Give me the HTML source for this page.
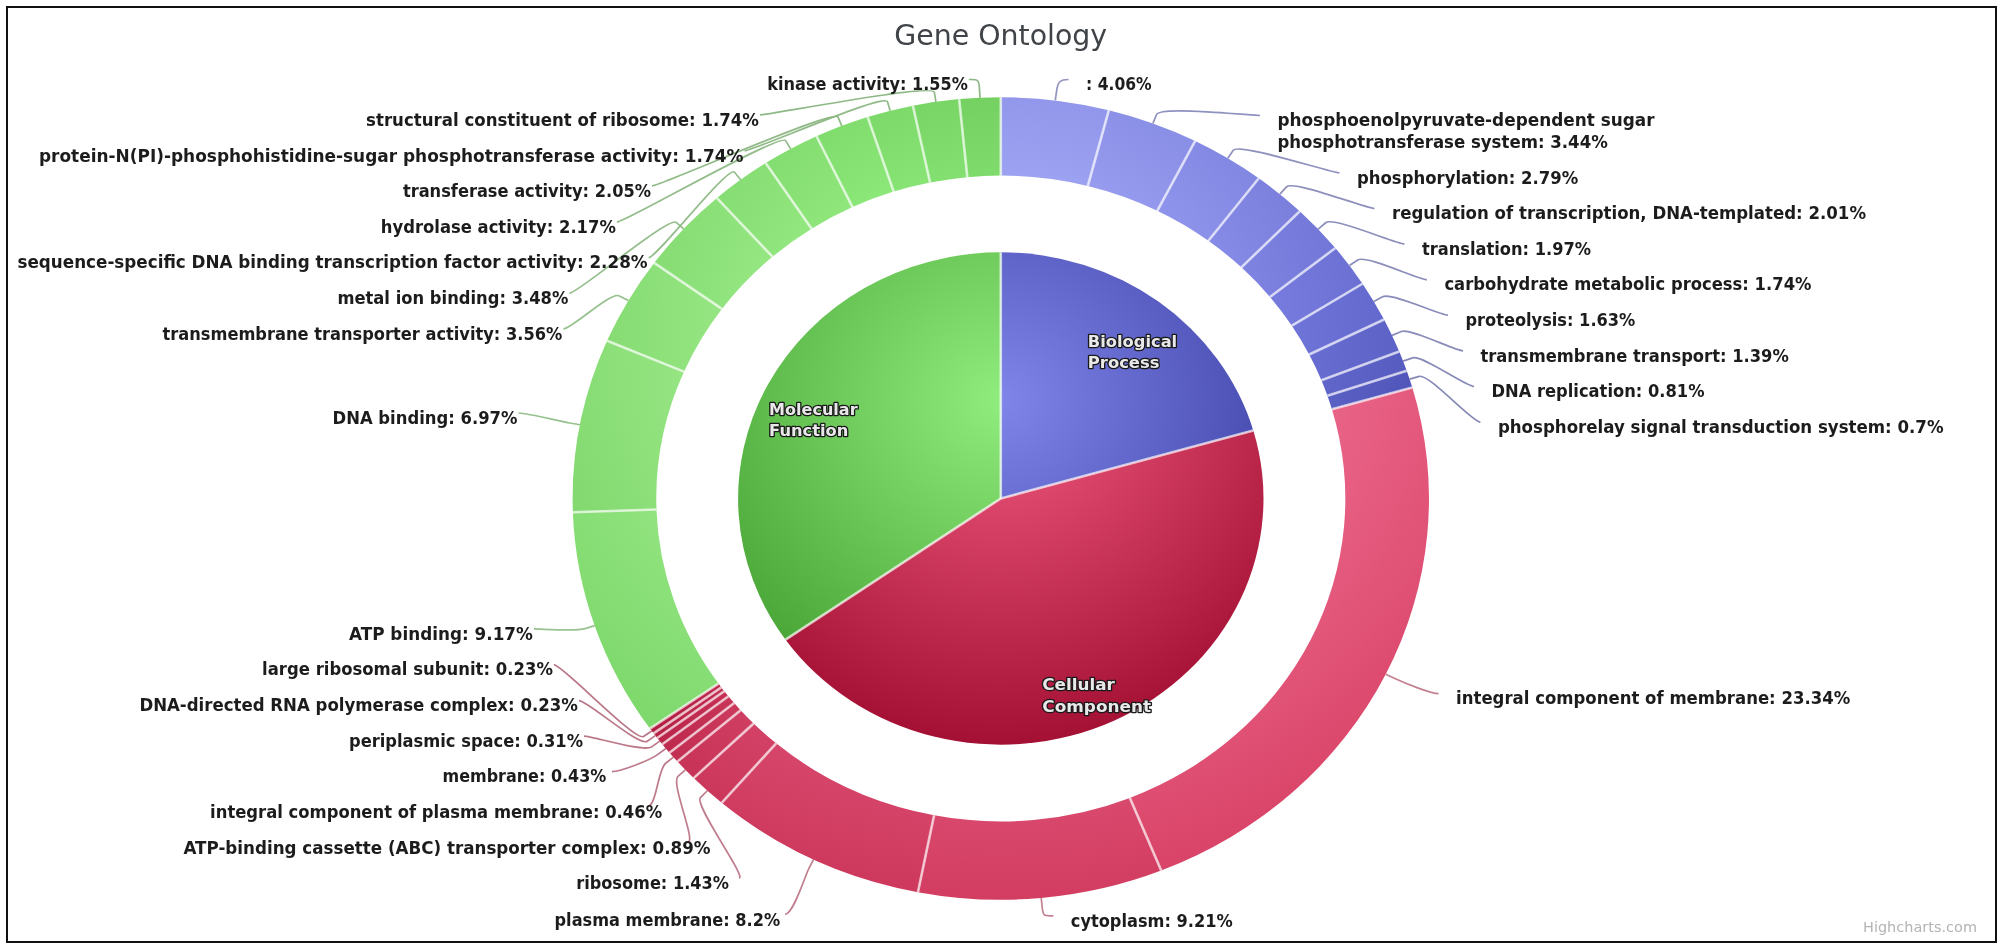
<!DOCTYPE html>
<html lang="en">
<head>
<meta charset="utf-8">
<title>Gene Ontology</title>
<style>
html,body{margin:0;padding:0;background:#fff;}
body{width:2004px;height:949px;overflow:hidden;position:relative;font-family:"DejaVu Sans", "Liberation Sans", sans-serif;}
#frame{position:absolute;left:6px;top:6px;width:1987px;height:933px;border:2px solid #111;background:#fff;}
svg{position:absolute;left:0;top:0;display:block;filter:blur(.5px);}
svg text{font-family:"DejaVu Sans", "Liberation Sans", sans-serif;}
.lab text{font-size:17px;font-weight:bold;fill:#1c1c1c;}
.inl text{font-size:15.5px;font-weight:bold;fill:#e9e9e9;stroke:#1a1a1a;stroke-width:2.6px;stroke-linejoin:round;paint-order:stroke fill;}
.div path{fill:none;stroke:#fff;stroke-width:2.6;stroke-opacity:.68;}
.con path{fill:none;stroke-width:1.7;stroke-opacity:.9;}
</style>
</head>
<body>
<div id="frame"></div>
<svg width="2004" height="949" viewBox="0 0 2004 949">
<defs>
<radialGradient id="gi0" gradientUnits="userSpaceOnUse" cx="0" cy="400.02" r="344.68" fx="0" fy="400.02" gradientTransform="translate(1000.8 0) scale(1.07 1)"><stop offset="0" stop-color="#8085e9"/><stop offset="1" stop-color="#34389c"/></radialGradient>
<radialGradient id="go0_0" gradientUnits="userSpaceOnUse" cx="0" cy="337.98" r="561.82" fx="0" fy="337.98" gradientTransform="translate(1000.8 0) scale(1.07 1)"><stop offset="0" stop-color="#b3b8ff"/><stop offset="1" stop-color="#666cd0"/></radialGradient>
<radialGradient id="go0_1" gradientUnits="userSpaceOnUse" cx="0" cy="337.98" r="561.82" fx="0" fy="337.98" gradientTransform="translate(1000.8 0) scale(1.07 1)"><stop offset="0" stop-color="#aeb3ff"/><stop offset="1" stop-color="#6166ca"/></radialGradient>
<radialGradient id="go0_2" gradientUnits="userSpaceOnUse" cx="0" cy="337.98" r="561.82" fx="0" fy="337.98" gradientTransform="translate(1000.8 0) scale(1.07 1)"><stop offset="0" stop-color="#a9aeff"/><stop offset="1" stop-color="#5c61c5"/></radialGradient>
<radialGradient id="go0_3" gradientUnits="userSpaceOnUse" cx="0" cy="337.98" r="561.82" fx="0" fy="337.98" gradientTransform="translate(1000.8 0) scale(1.07 1)"><stop offset="0" stop-color="#a4a9ff"/><stop offset="1" stop-color="#575cc0"/></radialGradient>
<radialGradient id="go0_4" gradientUnits="userSpaceOnUse" cx="0" cy="337.98" r="561.82" fx="0" fy="337.98" gradientTransform="translate(1000.8 0) scale(1.07 1)"><stop offset="0" stop-color="#9fa4ff"/><stop offset="1" stop-color="#5257bb"/></radialGradient>
<radialGradient id="go0_5" gradientUnits="userSpaceOnUse" cx="0" cy="337.98" r="561.82" fx="0" fy="337.98" gradientTransform="translate(1000.8 0) scale(1.07 1)"><stop offset="0" stop-color="#9a9eff"/><stop offset="1" stop-color="#4d52b6"/></radialGradient>
<radialGradient id="go0_6" gradientUnits="userSpaceOnUse" cx="0" cy="337.98" r="561.82" fx="0" fy="337.98" gradientTransform="translate(1000.8 0) scale(1.07 1)"><stop offset="0" stop-color="#9499fd"/><stop offset="1" stop-color="#484db1"/></radialGradient>
<radialGradient id="go0_7" gradientUnits="userSpaceOnUse" cx="0" cy="337.98" r="561.82" fx="0" fy="337.98" gradientTransform="translate(1000.8 0) scale(1.07 1)"><stop offset="0" stop-color="#8f94f8"/><stop offset="1" stop-color="#4348ac"/></radialGradient>
<radialGradient id="go0_8" gradientUnits="userSpaceOnUse" cx="0" cy="337.98" r="561.82" fx="0" fy="337.98" gradientTransform="translate(1000.8 0) scale(1.07 1)"><stop offset="0" stop-color="#8a8ff3"/><stop offset="1" stop-color="#3e43a7"/></radialGradient>
<radialGradient id="go0_9" gradientUnits="userSpaceOnUse" cx="0" cy="337.98" r="561.82" fx="0" fy="337.98" gradientTransform="translate(1000.8 0) scale(1.07 1)"><stop offset="0" stop-color="#858aee"/><stop offset="1" stop-color="#393ea2"/></radialGradient>
<radialGradient id="gi1" gradientUnits="userSpaceOnUse" cx="0" cy="400.02" r="344.68" fx="0" fy="400.02" gradientTransform="translate(1000.8 0) scale(1.07 1)"><stop offset="0" stop-color="#f15c80"/><stop offset="1" stop-color="#a41034"/></radialGradient>
<radialGradient id="go1_0" gradientUnits="userSpaceOnUse" cx="0" cy="337.98" r="561.82" fx="0" fy="337.98" gradientTransform="translate(1000.8 0) scale(1.07 1)"><stop offset="0" stop-color="#ff8fb3"/><stop offset="1" stop-color="#d84266"/></radialGradient>
<radialGradient id="go1_1" gradientUnits="userSpaceOnUse" cx="0" cy="337.98" r="561.82" fx="0" fy="337.98" gradientTransform="translate(1000.8 0) scale(1.07 1)"><stop offset="0" stop-color="#ff8aae"/><stop offset="1" stop-color="#d23d61"/></radialGradient>
<radialGradient id="go1_2" gradientUnits="userSpaceOnUse" cx="0" cy="337.98" r="561.82" fx="0" fy="337.98" gradientTransform="translate(1000.8 0) scale(1.07 1)"><stop offset="0" stop-color="#ff85a9"/><stop offset="1" stop-color="#cd385c"/></radialGradient>
<radialGradient id="go1_3" gradientUnits="userSpaceOnUse" cx="0" cy="337.98" r="561.82" fx="0" fy="337.98" gradientTransform="translate(1000.8 0) scale(1.07 1)"><stop offset="0" stop-color="#ff80a4"/><stop offset="1" stop-color="#c83357"/></radialGradient>
<radialGradient id="go1_4" gradientUnits="userSpaceOnUse" cx="0" cy="337.98" r="561.82" fx="0" fy="337.98" gradientTransform="translate(1000.8 0) scale(1.07 1)"><stop offset="0" stop-color="#ff7b9f"/><stop offset="1" stop-color="#c32e52"/></radialGradient>
<radialGradient id="go1_5" gradientUnits="userSpaceOnUse" cx="0" cy="337.98" r="561.82" fx="0" fy="337.98" gradientTransform="translate(1000.8 0) scale(1.07 1)"><stop offset="0" stop-color="#ff769a"/><stop offset="1" stop-color="#be294d"/></radialGradient>
<radialGradient id="go1_6" gradientUnits="userSpaceOnUse" cx="0" cy="337.98" r="561.82" fx="0" fy="337.98" gradientTransform="translate(1000.8 0) scale(1.07 1)"><stop offset="0" stop-color="#ff7094"/><stop offset="1" stop-color="#b92448"/></radialGradient>
<radialGradient id="go1_7" gradientUnits="userSpaceOnUse" cx="0" cy="337.98" r="561.82" fx="0" fy="337.98" gradientTransform="translate(1000.8 0) scale(1.07 1)"><stop offset="0" stop-color="#ff6b8f"/><stop offset="1" stop-color="#b41f43"/></radialGradient>
<radialGradient id="go1_8" gradientUnits="userSpaceOnUse" cx="0" cy="337.98" r="561.82" fx="0" fy="337.98" gradientTransform="translate(1000.8 0) scale(1.07 1)"><stop offset="0" stop-color="#fb668a"/><stop offset="1" stop-color="#af1a3e"/></radialGradient>
<radialGradient id="go1_9" gradientUnits="userSpaceOnUse" cx="0" cy="337.98" r="561.82" fx="0" fy="337.98" gradientTransform="translate(1000.8 0) scale(1.07 1)"><stop offset="0" stop-color="#f66185"/><stop offset="1" stop-color="#aa1539"/></radialGradient>
<radialGradient id="gi2" gradientUnits="userSpaceOnUse" cx="0" cy="400.02" r="344.68" fx="0" fy="400.02" gradientTransform="translate(1000.8 0) scale(1.07 1)"><stop offset="0" stop-color="#90ed7d"/><stop offset="1" stop-color="#44a030"/></radialGradient>
<radialGradient id="go2_0" gradientUnits="userSpaceOnUse" cx="0" cy="337.98" r="561.82" fx="0" fy="337.98" gradientTransform="translate(1000.8 0) scale(1.07 1)"><stop offset="0" stop-color="#c3ffb0"/><stop offset="1" stop-color="#76d464"/></radialGradient>
<radialGradient id="go2_1" gradientUnits="userSpaceOnUse" cx="0" cy="337.98" r="561.82" fx="0" fy="337.98" gradientTransform="translate(1000.8 0) scale(1.07 1)"><stop offset="0" stop-color="#beffab"/><stop offset="1" stop-color="#71ce5e"/></radialGradient>
<radialGradient id="go2_2" gradientUnits="userSpaceOnUse" cx="0" cy="337.98" r="561.82" fx="0" fy="337.98" gradientTransform="translate(1000.8 0) scale(1.07 1)"><stop offset="0" stop-color="#b9ffa6"/><stop offset="1" stop-color="#6cc959"/></radialGradient>
<radialGradient id="go2_3" gradientUnits="userSpaceOnUse" cx="0" cy="337.98" r="561.82" fx="0" fy="337.98" gradientTransform="translate(1000.8 0) scale(1.07 1)"><stop offset="0" stop-color="#b4ffa1"/><stop offset="1" stop-color="#67c454"/></radialGradient>
<radialGradient id="go2_4" gradientUnits="userSpaceOnUse" cx="0" cy="337.98" r="561.82" fx="0" fy="337.98" gradientTransform="translate(1000.8 0) scale(1.07 1)"><stop offset="0" stop-color="#afff9c"/><stop offset="1" stop-color="#62bf4f"/></radialGradient>
<radialGradient id="go2_5" gradientUnits="userSpaceOnUse" cx="0" cy="337.98" r="561.82" fx="0" fy="337.98" gradientTransform="translate(1000.8 0) scale(1.07 1)"><stop offset="0" stop-color="#aaff96"/><stop offset="1" stop-color="#5dba4a"/></radialGradient>
<radialGradient id="go2_6" gradientUnits="userSpaceOnUse" cx="0" cy="337.98" r="561.82" fx="0" fy="337.98" gradientTransform="translate(1000.8 0) scale(1.07 1)"><stop offset="0" stop-color="#a4ff91"/><stop offset="1" stop-color="#58b545"/></radialGradient>
<radialGradient id="go2_7" gradientUnits="userSpaceOnUse" cx="0" cy="337.98" r="561.82" fx="0" fy="337.98" gradientTransform="translate(1000.8 0) scale(1.07 1)"><stop offset="0" stop-color="#9ffc8c"/><stop offset="1" stop-color="#53b040"/></radialGradient>
<radialGradient id="go2_8" gradientUnits="userSpaceOnUse" cx="0" cy="337.98" r="561.82" fx="0" fy="337.98" gradientTransform="translate(1000.8 0) scale(1.07 1)"><stop offset="0" stop-color="#9af787"/><stop offset="1" stop-color="#4eab3b"/></radialGradient>
<radialGradient id="go2_9" gradientUnits="userSpaceOnUse" cx="0" cy="337.98" r="561.82" fx="0" fy="337.98" gradientTransform="translate(1000.8 0) scale(1.07 1)"><stop offset="0" stop-color="#95f282"/><stop offset="1" stop-color="#49a636"/></radialGradient>
</defs>
<text x="894.2" y="44.9" textLength="213" lengthAdjust="spacingAndGlyphs" font-size="28" fill="#404347">Gene Ontology</text>
<g class="pie">
<path d="M1000.8 498.5L1000.8 252.3A262.7 246.2 0 0 1 1253.27 430.47Z" fill="url(#gi0)"/>
<path d="M1000.8 97.2A428.19 401.3 0 0 1 1108.87 110.19L1087.76 186.05A344.53 322.9 0 0 0 1000.8 175.6Z" fill="url(#go0_0)"/>
<path d="M1108.87 110.19A428.19 401.3 0 0 1 1195.23 140.96L1157.24 210.81A344.53 322.9 0 0 0 1087.76 186.05Z" fill="url(#go0_1)"/>
<path d="M1195.23 140.96A428.19 401.3 0 0 1 1258.8 178.22L1208.39 240.8A344.53 322.9 0 0 0 1157.24 210.81Z" fill="url(#go0_2)"/>
<path d="M1258.8 178.22A428.19 401.3 0 0 1 1299.79 211.24L1241.38 267.36A344.53 322.9 0 0 0 1208.39 240.8Z" fill="url(#go0_3)"/>
<path d="M1299.79 211.24A428.19 401.3 0 0 1 1335.35 248.04L1269.99 296.97A344.53 322.9 0 0 0 1241.38 267.36Z" fill="url(#go0_4)"/>
<path d="M1335.35 248.04A428.19 401.3 0 0 1 1362.52 283.75L1291.85 325.71A344.53 322.9 0 0 0 1269.99 296.97Z" fill="url(#go0_5)"/>
<path d="M1362.52 283.75A428.19 401.3 0 0 1 1384.06 319.55L1309.18 354.51A344.53 322.9 0 0 0 1291.85 325.71Z" fill="url(#go0_6)"/>
<path d="M1384.06 319.55A428.19 401.3 0 0 1 1399.25 351.56L1321.41 380.27A344.53 322.9 0 0 0 1309.18 354.51Z" fill="url(#go0_7)"/>
<path d="M1399.25 351.56A428.19 401.3 0 0 1 1406.71 370.76L1327.41 395.71A344.53 322.9 0 0 0 1321.41 380.27Z" fill="url(#go0_8)"/>
<path d="M1406.71 370.76A428.19 401.3 0 0 1 1412.31 387.61L1331.92 409.27A344.53 322.9 0 0 0 1327.41 395.71Z" fill="url(#go0_9)"/>
<path d="M1000.8 498.5L1253.27 430.47A262.7 246.2 0 0 1 785.56 639.65Z" fill="url(#gi1)"/>
<path d="M1412.31 387.61A428.19 401.3 0 0 1 1161.2 870.58L1129.87 797.89A344.53 322.9 0 0 0 1331.92 409.27Z" fill="url(#go1_0)"/>
<path d="M1161.2 870.58A428.19 401.3 0 0 1 917.91 892.21L934.1 815.29A344.53 322.9 0 0 0 1129.87 797.89Z" fill="url(#go1_1)"/>
<path d="M917.91 892.21A428.19 401.3 0 0 1 721.65 802.79L776.18 743.35A344.53 322.9 0 0 0 934.1 815.29Z" fill="url(#go1_2)"/>
<path d="M721.65 802.79A428.19 401.3 0 0 1 693.63 778.09L753.64 723.46A344.53 322.9 0 0 0 776.18 743.35Z" fill="url(#go1_3)"/>
<path d="M693.63 778.09A428.19 401.3 0 0 1 677.44 761.56L740.61 710.16A344.53 322.9 0 0 0 753.64 723.46Z" fill="url(#go1_4)"/>
<path d="M677.44 761.56A428.19 401.3 0 0 1 669.46 752.69L734.19 703.03A344.53 322.9 0 0 0 740.61 710.16Z" fill="url(#go1_5)"/>
<path d="M669.46 752.69A428.19 401.3 0 0 1 662.25 744.2L728.39 696.2A344.53 322.9 0 0 0 734.19 703.03Z" fill="url(#go1_6)"/>
<path d="M662.25 744.2A428.19 401.3 0 0 1 657.21 737.97L724.34 691.19A344.53 322.9 0 0 0 728.39 696.2Z" fill="url(#go1_7)"/>
<path d="M657.21 737.97A428.19 401.3 0 0 1 653.55 733.3L721.39 687.42A344.53 322.9 0 0 0 724.34 691.19Z" fill="url(#go1_8)"/>
<path d="M653.55 733.3A428.19 401.3 0 0 1 649.97 728.57L718.51 683.62A344.53 322.9 0 0 0 721.39 687.42Z" fill="url(#go1_9)"/>
<path d="M1000.8 498.5L785.56 639.65A262.7 246.2 0 0 1 1000.8 252.3Z" fill="url(#gi2)"/>
<path d="M649.97 728.57A428.19 401.3 0 0 1 572.86 512.24L656.47 509.56A344.53 322.9 0 0 0 718.51 683.62Z" fill="url(#go2_0)"/>
<path d="M572.86 512.24A428.19 401.3 0 0 1 607.05 340.83L683.97 371.63A344.53 322.9 0 0 0 656.47 509.56Z" fill="url(#go2_1)"/>
<path d="M607.05 340.83A428.19 401.3 0 0 1 654.18 262.89L721.9 308.92A344.53 322.9 0 0 0 683.97 371.63Z" fill="url(#go2_2)"/>
<path d="M654.18 262.89A428.19 401.3 0 0 1 716.98 198.02L772.43 256.72A344.53 322.9 0 0 0 721.9 308.92Z" fill="url(#go2_3)"/>
<path d="M716.98 198.02A428.19 401.3 0 0 1 765.67 163.12L811.61 228.64A344.53 322.9 0 0 0 772.43 256.72Z" fill="url(#go2_4)"/>
<path d="M765.67 163.12A428.19 401.3 0 0 1 816.51 136.27L852.51 207.04A344.53 322.9 0 0 0 811.61 228.64Z" fill="url(#go2_5)"/>
<path d="M816.51 136.27A428.19 401.3 0 0 1 867.69 117.08L893.69 191.6A344.53 322.9 0 0 0 852.51 207.04Z" fill="url(#go2_6)"/>
<path d="M867.69 117.08A428.19 401.3 0 0 1 912.9 105.75L930.07 182.48A344.53 322.9 0 0 0 893.69 191.6Z" fill="url(#go2_7)"/>
<path d="M912.9 105.75A428.19 401.3 0 0 1 959.16 99.1L967.29 177.13A344.53 322.9 0 0 0 930.07 182.48Z" fill="url(#go2_8)"/>
<path d="M959.16 99.1A428.19 401.3 0 0 1 1000.8 97.2L1000.8 175.6A344.53 322.9 0 0 0 967.29 177.13Z" fill="url(#go2_9)"/>
</g>
<g class="div">
<path d="M1000.8 498.5L1000.8 252.3"/>
<path d="M1000.8 175.6L1000.8 97.2"/>
<path d="M1087.76 186.05L1108.87 110.19"/>
<path d="M1157.24 210.81L1195.23 140.96"/>
<path d="M1208.39 240.8L1258.8 178.22"/>
<path d="M1241.38 267.36L1299.79 211.24"/>
<path d="M1269.99 296.97L1335.35 248.04"/>
<path d="M1291.85 325.71L1362.52 283.75"/>
<path d="M1309.18 354.51L1384.06 319.55"/>
<path d="M1321.41 380.27L1399.25 351.56"/>
<path d="M1327.41 395.71L1406.71 370.76"/>
<path d="M1000.8 498.5L1253.27 430.47"/>
<path d="M1331.92 409.27L1412.31 387.61"/>
<path d="M1129.87 797.89L1161.2 870.58"/>
<path d="M934.1 815.29L917.91 892.21"/>
<path d="M776.18 743.35L721.65 802.79"/>
<path d="M753.64 723.46L693.63 778.09"/>
<path d="M740.61 710.16L677.44 761.56"/>
<path d="M734.19 703.03L669.46 752.69"/>
<path d="M728.39 696.2L662.25 744.2"/>
<path d="M724.34 691.19L657.21 737.97"/>
<path d="M721.39 687.42L653.55 733.3"/>
<path d="M1000.8 498.5L785.56 639.65"/>
<path d="M718.51 683.62L649.97 728.57"/>
<path d="M656.47 509.56L572.86 512.24"/>
<path d="M683.97 371.63L607.05 340.83"/>
<path d="M721.9 308.92L654.18 262.89"/>
<path d="M772.43 256.72L716.98 198.02"/>
<path d="M811.61 228.64L765.67 163.12"/>
<path d="M852.51 207.04L816.51 136.27"/>
<path d="M893.69 191.6L867.69 117.08"/>
<path d="M930.07 182.48L912.9 105.75"/>
<path d="M967.29 177.13L959.16 99.1"/>
</g>
<g class="con">
<path d="M1068.5 79.5C1060.12 79.5 1057.86 81.62 1056.57 91.04L1055.28 100.46" stroke="#8587b9"/>
<path d="M1259.9 115.5C1251.52 115.5 1160.14 105.62 1156.54 114.5L1152.94 123.38" stroke="#8386b8"/>
<path d="M1339.5 172.9C1331.12 172.9 1238.64 142.18 1233.26 150.23L1227.88 158.28" stroke="#8285b7"/>
<path d="M1374.5 208.5C1366.12 208.5 1293.06 179.71 1286.46 186.92L1279.85 194.12" stroke="#8183b5"/>
<path d="M1404.5 244C1396.12 244 1333.21 216.37 1325.69 222.75L1318.18 229.12" stroke="#8082b4"/>
<path d="M1426.9 279.7C1418.52 279.7 1365.97 254.52 1357.71 260.03L1349.46 265.55" stroke="#7e81b3"/>
<path d="M1448 315.2C1439.62 315.2 1391.44 292.06 1382.61 296.73L1373.78 301.39" stroke="#7d7fb1"/>
<path d="M1463 350.8C1454.62 350.8 1410.55 327.68 1401.29 331.54L1392.03 335.4" stroke="#7c7eb0"/>
<path d="M1474.1 386.5C1465.72 386.5 1422.16 354.61 1412.64 357.86L1403.11 361.12" stroke="#7a7daf"/>
<path d="M1480.4 422.2C1472.02 422.2 1428.97 373.5 1419.29 376.33L1409.61 379.15" stroke="#797cae"/>
<path d="M1438.6 693.7C1430.22 693.7 1403.94 682.61 1394.83 678.45L1385.72 674.29" stroke="#bd7385"/>
<path d="M1053.3 915.8C1044.92 915.8 1043.15 916.92 1042.2 907.46L1041.24 898.01" stroke="#bc7183"/>
<path d="M785 914.3C793.38 914.3 804.73 876.5 809.17 867.96L813.6 859.42" stroke="#bb7082"/>
<path d="M739 878C747.38 878 693.45 804.57 700.4 797.65L707.34 790.73" stroke="#b96f81"/>
<path d="M688 842C696.38 842 670.48 782.78 677.95 776.35L685.41 769.93" stroke="#b86e80"/>
<path d="M648 806C656.38 806 657.91 769.39 665.66 763.27L673.42 757.15" stroke="#b76c7e"/>
<path d="M612 771.6C620.38 771.6 649.97 760.3 657.9 754.38L665.83 748.47" stroke="#b56b7d"/>
<path d="M584 736.1C592.38 736.1 643.57 752.59 651.64 746.84L659.72 741.1" stroke="#b46a7c"/>
<path d="M579 700.7C587.38 700.7 639.02 746.87 647.2 741.26L655.37 735.64" stroke="#b3687a"/>
<path d="M553.9 664.7C562.28 664.7 635.23 741.94 643.49 736.44L651.75 730.94" stroke="#b26779"/>
<path d="M533.9 628.9C542.28 628.9 575.44 631.67 585.06 628.66L594.67 625.65" stroke="#8dbb83" stroke-opacity=".6"/>
<path d="M518.5 413C526.88 413 559.97 421.29 569.94 423.03L579.9 424.78" stroke="#8bba82" stroke-opacity=".6"/>
<path d="M563.4 328.9C571.78 328.9 610.65 291.25 619.47 295.94L628.29 300.62" stroke="#8ab981" stroke-opacity=".6"/>
<path d="M569.4 293.3C577.78 293.3 668.68 216.08 676.18 222.46L683.69 228.84" stroke="#89b77f" stroke-opacity=".6"/>
<path d="M648.6 257.7C656.98 257.7 728.34 164.66 734.5 172.2L740.66 179.75" stroke="#88b67e" stroke-opacity=".6"/>
<path d="M616.9 222.1C625.28 222.1 780.65 132.33 785.63 140.6L790.6 148.88" stroke="#86b57d" stroke-opacity=".6"/>
<path d="M652 186C660.38 186 834.24 108.26 838 117.08L841.77 125.9" stroke="#85b37b" stroke-opacity=".6"/>
<path d="M744.6 150.8C752.98 150.8 884.89 92.48 887.51 101.66L890.13 110.84" stroke="#84b27a" stroke-opacity=".6"/>
<path d="M760 115C768.38 115 932.86 83.05 934.39 92.44L935.93 101.83" stroke="#82b179" stroke-opacity=".6"/>
<path d="M968.9 79.5C977.28 79.5 978.97 78.7 979.46 88.19L979.95 97.68" stroke="#81b078" stroke-opacity=".6"/>
</g>
<g class="lab">
<text x="1086" y="90.2" textLength="65.7" lengthAdjust="spacingAndGlyphs">: 4.06%</text>
<text x="1277.4" y="126.2" textLength="377.2" lengthAdjust="spacingAndGlyphs">phosphoenolpyruvate-dependent sugar</text>
<text x="1277.4" y="147.8" textLength="330.4" lengthAdjust="spacingAndGlyphs">phosphotransferase system: 3.44%</text>
<text x="1357" y="183.6" textLength="221.3" lengthAdjust="spacingAndGlyphs">phosphorylation: 2.79%</text>
<text x="1392" y="219.2" textLength="474" lengthAdjust="spacingAndGlyphs">regulation of transcription, DNA-templated: 2.01%</text>
<text x="1422" y="254.7" textLength="169" lengthAdjust="spacingAndGlyphs">translation: 1.97%</text>
<text x="1444.4" y="290.4" textLength="367.1" lengthAdjust="spacingAndGlyphs">carbohydrate metabolic process: 1.74%</text>
<text x="1465.5" y="325.9" textLength="169.8" lengthAdjust="spacingAndGlyphs">proteolysis: 1.63%</text>
<text x="1480.5" y="361.5" textLength="308.3" lengthAdjust="spacingAndGlyphs">transmembrane transport: 1.39%</text>
<text x="1491.6" y="397.2" textLength="212.9" lengthAdjust="spacingAndGlyphs">DNA replication: 0.81%</text>
<text x="1497.9" y="432.9" textLength="445.7" lengthAdjust="spacingAndGlyphs">phosphorelay signal transduction system: 0.7%</text>
<text x="1456.1" y="704.4" textLength="394.2" lengthAdjust="spacingAndGlyphs">integral component of membrane: 23.34%</text>
<text x="1070.8" y="926.5" textLength="162" lengthAdjust="spacingAndGlyphs">cytoplasm: 9.21%</text>
<text x="554.5" y="925.5" textLength="225.7" lengthAdjust="spacingAndGlyphs">plasma membrane: 8.2%</text>
<text x="576.2" y="889.3" textLength="152.8" lengthAdjust="spacingAndGlyphs">ribosome: 1.43%</text>
<text x="183.4" y="853.7" textLength="527.2" lengthAdjust="spacingAndGlyphs">ATP-binding cassette (ABC) transporter complex: 0.89%</text>
<text x="210.1" y="818" textLength="452" lengthAdjust="spacingAndGlyphs">integral component of plasma membrane: 0.46%</text>
<text x="442.5" y="782.3" textLength="163.8" lengthAdjust="spacingAndGlyphs">membrane: 0.43%</text>
<text x="349" y="746.8" textLength="234" lengthAdjust="spacingAndGlyphs">periplasmic space: 0.31%</text>
<text x="139.4" y="711.4" textLength="438.6" lengthAdjust="spacingAndGlyphs">DNA-directed RNA polymerase complex: 0.23%</text>
<text x="262.1" y="675.4" textLength="290.8" lengthAdjust="spacingAndGlyphs">large ribosomal subunit: 0.23%</text>
<text x="349" y="639.6" textLength="183.9" lengthAdjust="spacingAndGlyphs">ATP binding: 9.17%</text>
<text x="332.5" y="423.7" textLength="185" lengthAdjust="spacingAndGlyphs">DNA binding: 6.97%</text>
<text x="162.5" y="339.6" textLength="399.9" lengthAdjust="spacingAndGlyphs">transmembrane transporter activity: 3.56%</text>
<text x="337.4" y="304" textLength="231" lengthAdjust="spacingAndGlyphs">metal ion binding: 3.48%</text>
<text x="17.5" y="268.4" textLength="630.1" lengthAdjust="spacingAndGlyphs">sequence-specific DNA binding transcription factor activity: 2.28%</text>
<text x="380.8" y="232.8" textLength="235.1" lengthAdjust="spacingAndGlyphs">hydrolase activity: 2.17%</text>
<text x="402.9" y="196.7" textLength="248.1" lengthAdjust="spacingAndGlyphs">transferase activity: 2.05%</text>
<text x="39" y="161.5" textLength="704.6" lengthAdjust="spacingAndGlyphs">protein-N(PI)-phosphohistidine-sugar phosphotransferase activity: 1.74%</text>
<text x="366.1" y="125.7" textLength="392.9" lengthAdjust="spacingAndGlyphs">structural constituent of ribosome: 1.74%</text>
<text x="767.3" y="90.2" textLength="200.6" lengthAdjust="spacingAndGlyphs">kinase activity: 1.55%</text>
</g>
<g class="inl">
<text x="1087.8" y="347.1" textLength="89.4" lengthAdjust="spacingAndGlyphs">Biological</text>
<text x="1087.8" y="368.3" textLength="71.7" lengthAdjust="spacingAndGlyphs">Process</text>
<text x="1042.3" y="690.2" textLength="72.5" lengthAdjust="spacingAndGlyphs">Cellular</text>
<text x="1042.3" y="712.4" textLength="108.8" lengthAdjust="spacingAndGlyphs">Component</text>
<text x="769.1" y="414.6" textLength="88.5" lengthAdjust="spacingAndGlyphs">Molecular</text>
<text x="769.1" y="436.1" textLength="79.2" lengthAdjust="spacingAndGlyphs">Function</text>
</g>
<text x="1863" y="932" textLength="114" lengthAdjust="spacingAndGlyphs" font-size="13.5" fill="#b4b4b4">Highcharts.com</text>
</svg>
</body>
</html>
